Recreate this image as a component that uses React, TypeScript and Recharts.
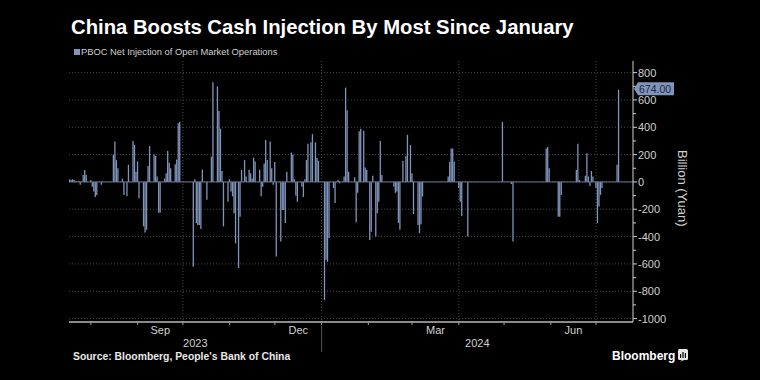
import React from 'react';
import { BarChart, Bar, XAxis, YAxis, CartesianGrid, ReferenceLine } from 'recharts';

// daily net injection, billion yuan, as [day of month, value]
const jul23 = [[18, 20], [19, 15], [20, 20], [21, 15], [22, 5], [24, 5], [25, -20], [27, 50], [28, 88], [29, 50]];
const aug23 = [[1, 15], [2, -35], [3, -70], [4, -110], [5, -95], [8, -20], [16, 200], [17, 295], [18, 160], [19, 100], [22, 25], [23, -95], [25, -105], [26, 125], [29, 300], [30, 270], [31, 75]];
const sep23 = [[1, 150], [2, -120], [5, -325], [6, -370], [7, -350], [8, 117], [9, 263], [12, 200], [13, 190], [14, 40], [15, -225], [16, -225], [19, 25], [20, 63], [21, 227], [22, 140], [23, 100], [26, 130], [27, 165], [28, 430], [29, 440]];
const oct23 = [[8, -620], [9, 20], [10, -300], [11, -315], [12, -315], [13, -345], [14, 90], [17, -130], [20, 185], [21, 730], [24, 700], [25, 520], [26, 390], [27, 80], [28, -325], [31, -145]];
const nov23 = [[1, 20], [2, -70], [3, -105], [4, -230], [5, -450], [7, -630], [8, -255], [9, 88], [11, 160], [12, 40], [14, 90], [15, 63], [16, 25], [17, 178], [18, 150], [21, 90], [22, -105], [23, -35], [24, 135], [25, 307], [26, 160], [28, 295], [29, 100], [30, -20]];
const dec23 = [[1, 145], [2, -545], [5, -435], [6, -205], [7, -205], [8, -300], [9, 75], [12, 215], [13, 200], [14, 20], [15, -100], [16, -145], [19, -35], [20, -110], [21, 20], [22, 160], [23, 280], [25, 290], [26, 350], [28, 290], [29, 175], [30, 155]];
const jan24 = [[3, -865], [4, -570], [5, -585], [6, -410], [9, -45], [10, -155], [12, 15], [13, -10], [16, 40], [17, 690], [18, 525], [19, 75], [23, 35], [24, -295], [25, -80], [26, 370], [27, 390], [29, 375], [30, 105], [31, 88]];
const feb24 = [[2, -425], [3, -365], [4, 45], [6, -400], [7, -230], [8, -145], [9, 300], [10, 50], [18, -35], [19, -80], [20, -70], [21, -300], [22, -350], [24, 155], [26, 190], [27, 345], [29, 270]];
const mar24 = [[1, 63], [2, -235], [5, -315], [6, -375], [7, -310], [8, -107], [25, 40], [26, 145], [27, 245], [28, 245], [29, 150]];
const apr24 = [[1, -45], [2, -145], [3, -250], [7, -400], [30, 440]];
const may24 = [[6, -15], [7, -435], [29, 245], [30, 255], [31, 100]];
const jun24 = [[6, -255], [7, -255], [8, -95], [18, 88], [19, 280], [20, 15], [24, 45], [25, 210], [26, 40], [27, -30], [28, 80], [29, 40]];
const jul24 = [[1, -45], [2, -300], [3, -180], [4, -95], [5, -45], [15, 125], [16, 674]];

const monthSeries = [
  { y: 2023, m: 7, values: jul23 },
  { y: 2023, m: 8, values: aug23 },
  { y: 2023, m: 9, values: sep23 },
  { y: 2023, m: 10, values: oct23 },
  { y: 2023, m: 11, values: nov23 },
  { y: 2023, m: 12, values: dec23 },
  { y: 2024, m: 1, values: jan24 },
  { y: 2024, m: 2, values: feb24 },
  { y: 2024, m: 3, values: mar24 },
  { y: 2024, m: 4, values: apr24 },
  { y: 2024, m: 5, values: may24 },
  { y: 2024, m: 6, values: jun24 },
  { y: 2024, m: 7, values: jul24 },
];

const monthLabels = [
  { y: 2023, m: 9, text: 'Sep' },
  { y: 2023, m: 12, text: 'Dec' },
  { y: 2024, m: 3, text: 'Mar' },
  { y: 2024, m: 6, text: 'Jun' },
];
const yearLabels = ['2023', '2024'];
const yTicks = [800, 700, 600, 500, 400, 300, 200, 100, 0, -100, -200, -300, -400, -500, -600, -700, -800, -900, -1000];
const gridValues = [800, 600, 400, 200, 0, -200, -400, -600, -800, -1000];

const ORIGIN = Date.UTC(2023, 6, 1);
const dayIndex = (y: number, m: number, d: number) => (Date.UTC(y, m - 1, d) - ORIGIN) / 86400000;

const data = monthSeries.flatMap(({ y, m, values }) =>
  values.map(([d, v]) => ({ day: dayIndex(y, m, d), value: v }))
);
const last = data[data.length - 1];

const X_DOMAIN = [dayIndex(2023, 7, 18) - 0.5, dayIndex(2024, 7, 25) + 0.5];
const yearStart = dayIndex(2024, 1, 1);

const monthStarts: number[] = [];
for (let i = 1; i <= 12; i++) monthStarts.push(dayIndex(2023, 7 + i, 1));
const quarterStarts = [dayIndex(2023, 10, 1), dayIndex(2024, 1, 1), dayIndex(2024, 4, 1), dayIndex(2024, 7, 1)];

const labelTicks = new Map<number, string>();
monthLabels.forEach(({ y, m, text }) => {
  labelTicks.set((dayIndex(y, m, 1) + dayIndex(y, m + 1, 1)) / 2, text);
});
const yearTicks = new Map<number, string>();
yearTicks.set((X_DOMAIN[0] + yearStart) / 2, yearLabels[0]);
yearTicks.set((yearStart + X_DOMAIN[1]) / 2, yearLabels[1]);

const xTicks = [...monthStarts, ...labelTicks.keys(), ...yearTicks.keys()].sort((a, b) => a - b);

const BAR = '#7f95bb';
const TEXT = '#d0d0d0';
const FONT = '"Liberation Sans", Arial, sans-serif';

const XTick = ({ x, y, payload }: any) => {
  const v = payload.value;
  if (labelTicks.has(v)) {
    return <text x={x} y={y + 12} textAnchor="middle" fill={TEXT} fontSize={11} fontFamily={FONT}>{labelTicks.get(v)}</text>;
  }
  if (yearTicks.has(v)) {
    return <text x={x} y={y + 25} textAnchor="middle" fill={TEXT} fontSize={11} fontFamily={FONT}>{yearTicks.get(v)}</text>;
  }
  return (
    <g>
      <line x1={x} x2={x} y1={y - 1} y2={y + 3} stroke="#9a9a9a" />
      {v === yearStart && <line x1={x} x2={x} y1={y + 4} y2={y + 30} stroke="#555" />}
    </g>
  );
};

const YTick = ({ x, y, payload }: any) => {
  const v = payload.value;
  const major = v % 200 === 0;
  return (
    <g>
      <line x1={x} x2={x + (major ? 4 : 3)} y1={y} y2={y} stroke="#cfcfcf" />
      {major && (
        <text x={x + 5} y={y} dy={4} fill={TEXT} fontSize={11} fontFamily={FONT}>{v}</text>
      )}
    </g>
  );
};

const LastValueTag = ({ viewBox }: any) => {
  const x = viewBox.x + viewBox.width + 1;
  const y = viewBox.y - 1;
  return (
    <g>
      <polygon points={`${x},${y} ${x + 4},${y - 6.5} ${x + 40},${y - 6.5} ${x + 40},${y + 6.5} ${x + 4},${y + 6.5}`} fill={BAR} />
      <text x={x + 5} y={y} dy={3.8} fill="#1b2740" fontSize={10.5} fontFamily={FONT}>{last.value.toFixed(2)}</text>
    </g>
  );
};

export default function App() {
  return (
    <div style={{ position: 'absolute', left: 0, top: 0, width: 760, height: 380, background: '#000', fontFamily: FONT, overflow: 'hidden' }}>
      <div style={{ position: 'absolute', left: 71, top: 16, color: '#fff', fontSize: 20.3, fontWeight: 700, lineHeight: '22px', whiteSpace: 'nowrap' }}>
        China Boosts Cash Injection By Most Since January
      </div>
      <div style={{ position: 'absolute', left: 74, top: 49, width: 6, height: 6, background: BAR }} />
      <div style={{ position: 'absolute', left: 81, top: 46, color: TEXT, fontSize: 9.35, lineHeight: '12px', whiteSpace: 'nowrap' }}>
        PBOC Net Injection of Open Market Operations
      </div>
      <BarChart width={760} height={380} data={data} margin={{ top: 61, right: 67, bottom: 28, left: 69 }}>
        <CartesianGrid horizontalValues={gridValues} verticalValues={quarterStarts} stroke="#4a4a4a" strokeDasharray="1 2" />
        <XAxis
          dataKey="day"
          type="number"
          domain={X_DOMAIN}
          allowDataOverflow
          ticks={xTicks}
          interval={0}
          tickSize={0}
          tickMargin={0}
          tick={<XTick />}
          axisLine={{ stroke: '#8a8a8a', strokeWidth: 2 }}
          height={30}
        />
        <YAxis
          orientation="right"
          type="number"
          domain={[-1025, 885]}
          allowDataOverflow
          ticks={yTicks}
          interval={0}
          tickSize={0}
          tickMargin={0}
          tick={<YTick />}
          axisLine={{ stroke: '#cfcfcf' }}
          width={60}
        />
        <ReferenceLine y={0} stroke="#66768f" />
        <Bar dataKey="value" fill={BAR} barSize={1.3} isAnimationActive={false} />
        <ReferenceLine y={last.value} stroke="none" label={<LastValueTag />} />
      </BarChart>
      <div style={{ position: 'absolute', left: 675, top: 150, color: TEXT, fontSize: 13, lineHeight: '14px', writingMode: 'vertical-rl', whiteSpace: 'nowrap' }}>
        Billion (Yuan)
      </div>
      <div style={{ position: 'absolute', left: 73, top: 351, color: '#e8e8e8', fontSize: 10.4, fontWeight: 700, lineHeight: '12px', whiteSpace: 'nowrap' }}>
        Source: Bloomberg, People's Bank of China
      </div>
      <div style={{ position: 'absolute', left: 612, top: 348, color: '#fff', fontSize: 12, fontWeight: 700, lineHeight: '16px', whiteSpace: 'nowrap' }}>
        Bloomberg
      </div>
      <svg style={{ position: 'absolute', left: 678, top: 349 }} width={10} height={13}>
        <rect x={0} y={0} width={10} height={11} rx={1.5} fill="#e8e8e8" />
        <polygon points="2,13 4,11 6,11" fill="#e8e8e8" />
        <rect x={2} y={5} width={1.2} height={4} fill="#000" />
        <rect x={4.4} y={3} width={1.2} height={6} fill="#000" />
        <rect x={6.8} y={4} width={1.2} height={5} fill="#000" />
      </svg>
    </div>
  );
}
